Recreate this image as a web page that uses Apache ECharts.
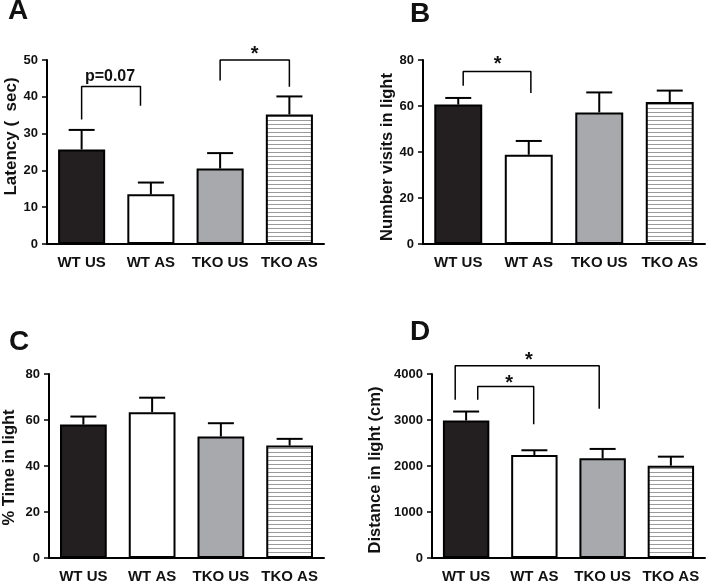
<!DOCTYPE html>
<html><head><meta charset="utf-8">
<script src="https://cdn.jsdelivr.net/npm/echarts@6/dist/echarts.min.js"></script>
<style>html,body{margin:0;padding:0;background:#fff}#c{width:710px;height:585px}</style>
</head><body><div id="c"></div>
<script>
const categories = ['WT US', 'WT AS', 'TKO US', 'TKO AS'];
const latencyMean = [25.7, 13.5, 20.5, 35.2];
const latencySem = [5.3, 3.2, 4.2, 4.9];
const visitsMean = [60.6, 38.8, 57.2, 61.7];
const visitsSem = [2.9, 6.0, 8.7, 5.0];
const timeMean = [58.0, 63.4, 52.8, 48.9];
const timeSem = [3.5, 6.3, 5.8, 2.9];
const distMean = [2988, 2240, 2168, 2007];
const distSem = [196, 102, 203, 196];
// brackets: [xLeft, yLeftBottom, yTop, xRight, yRightBottom] in category units
const bracketsA = [[0.0, 33.8, 42.8, 0.85, 37.6], [2.0, 44.4, 50.0, 3.0, 42.7]];
const bracketsB = [[0.07, 68.8, 75.0, 1.03, 65.7]];
const bracketsD = [[-0.16, 3440, 4181, 1.95, 3243], [0.17, 3440, 3730, 0.99, 2910]];
const notesA = [[0.41, 45.6, 'p=0.07'], [2.5, 51.6, '*']];
const notesB = [[0.56, 77.9, '*']];
const notesD = [[0.92, 4290, '*'], [0.63, 3803, '*']];

const FONT = '"Liberation Sans", Arial, sans-serif';
const hatch = document.createElement('canvas');
hatch.width = 4; hatch.height = 4;
const hc = hatch.getContext('2d');
hc.fillStyle = '#fff'; hc.fillRect(0, 0, 4, 4);
hc.fillStyle = '#9a9a9a'; hc.fillRect(0, 0, 4, 1);
const fills = ['#231f20', '#ffffff', '#a7a9ac', {image: hatch, repeat: 'repeat'}];

const grids = [
  {left: 47, right: 386, top: 60, bottom: 341},
  {left: 423, right: 5, top: 60, bottom: 341},
  {left: 47, right: 386, top: 374, bottom: 27},
  {left: 432, right: 5, top: 374, bottom: 27}
];
const yDefs = [
  {max: 50, interval: 10, name: 'Latency (  sec)', gap: 26, size: 17, pad: [0, 0, 0, 31]},
  {max: 80, interval: 20, name: 'Number visits in light', gap: 27, size: 16.5, pad: [0, 10, 0, 0]},
  {max: 80, interval: 20, name: '% Time in light', gap: 31, size: 16.5, pad: [0, 3, 0, 0]},
  {max: 4000, interval: 1000, name: 'Distance in light (cm)', gap: 48, size: 16.5, pad: [0, 8, 0, 0]}
];
const means = [latencyMean, visitsMean, timeMean, distMean];
const sems = [latencySem, visitsSem, timeSem, distSem];
const brackets = [bracketsA, bracketsB, [], bracketsD];
const notes = [notesA, notesB, [], notesD];

const xAxis = [], yAxis = [], series = [];
grids.forEach((g, i) => {
  xAxis.push({
    type: 'category', gridIndex: i, data: categories,
    axisLine: {onZero: false, lineStyle: {color: '#000', width: 2}},
    axisTick: {show: false},
    axisLabel: {interval: 0, hideOverlap: false, color: '#111', fontFamily: FONT, fontWeight: 'bold', fontSize: 15, margin: 11}
  });
  xAxis.push({type: 'value', gridIndex: i, min: -0.5, max: 3.5, show: false});
  yAxis.push({
    type: 'value', gridIndex: i, min: 0, max: yDefs[i].max, interval: yDefs[i].interval,
    name: yDefs[i].name, nameLocation: 'middle', nameGap: yDefs[i].gap,
    nameTextStyle: {color: '#111', fontFamily: FONT, fontWeight: 'bold', fontSize: yDefs[i].size, padding: yDefs[i].pad},
    splitLine: {show: false},
    axisLine: {show: true, onZero: false, lineStyle: {color: '#000', width: 2}},
    axisTick: {show: true, length: 5, lineStyle: {color: '#000', width: 1.5}},
    axisLabel: {color: '#111', fontFamily: FONT, fontWeight: 'bold', fontSize: 13, margin: 9,
      formatter: v => String(v)}
  });
  series.push({
    type: 'bar', xAxisIndex: 2 * i, yAxisIndex: i, barWidth: '68%',
    data: means[i].map((v, k) => ({value: v, itemStyle: {color: fills[k]}})),
    itemStyle: {borderColor: '#000', borderWidth: 2}, z: 2
  });
  series.push({
    type: 'custom', xAxisIndex: 2 * i, yAxisIndex: i, z: 3,
    data: means[i].map((v, k) => [k, v, v + sems[i][k]]),
    encode: {x: 0, y: [1, 2]},
    renderItem: (params, api) => {
      const base = api.coord([api.value(0), api.value(1)]);
      const top = api.coord([api.value(0), api.value(2)]);
      const st = {stroke: '#000', lineWidth: 2};
      return {type: 'group', children: [
        {type: 'line', shape: {x1: base[0], y1: base[1], x2: top[0], y2: top[1]}, style: st},
        {type: 'line', shape: {x1: top[0] - 13, y1: top[1], x2: top[0] + 13, y2: top[1]}, style: st}
      ]};
    }
  });
  brackets[i].forEach(b => {
    series.push({
      type: 'line', xAxisIndex: 2 * i + 1, yAxisIndex: i, clip: false, symbol: 'none', silent: true,
      lineStyle: {color: '#000', width: 1.5}, z: 4,
      data: [[b[0], b[1]], [b[0], b[2]], [b[3], b[2]], [b[3], b[4]]]
    });
  });
  if (notes[i].length) {
    series.push({
      type: 'scatter', xAxisIndex: 2 * i + 1, yAxisIndex: i, clip: false, symbolSize: 1, silent: true,
      itemStyle: {color: 'rgba(0,0,0,0)', opacity: 1}, z: 5,
      data: notes[i].map(n => ({value: [n[0], n[1]], name: n[2],
        label: {fontSize: n[2] === '*' ? 20 : 16}})),
      label: {show: true, position: 'inside', formatter: p => p.name, color: '#111',
        textBorderWidth: 0, fontFamily: FONT, fontWeight: 'bold', fontSize: 16}
    });
  }
});

const letters = [['A', 8, -3], ['B', 410, 0], ['C', 9, 328], ['D', 410, 318]];
const chart = echarts.init(document.getElementById('c'), null, {renderer: 'canvas'});
chart.setOption({
  animation: false,
  grid: grids, xAxis: xAxis, yAxis: yAxis, series: series,
  graphic: letters.map(l => ({type: 'text', left: l[1], top: l[2],
    style: {text: l[0], fill: '#111', font: 'bold 28px ' + FONT}}))
});
</script></body></html>
